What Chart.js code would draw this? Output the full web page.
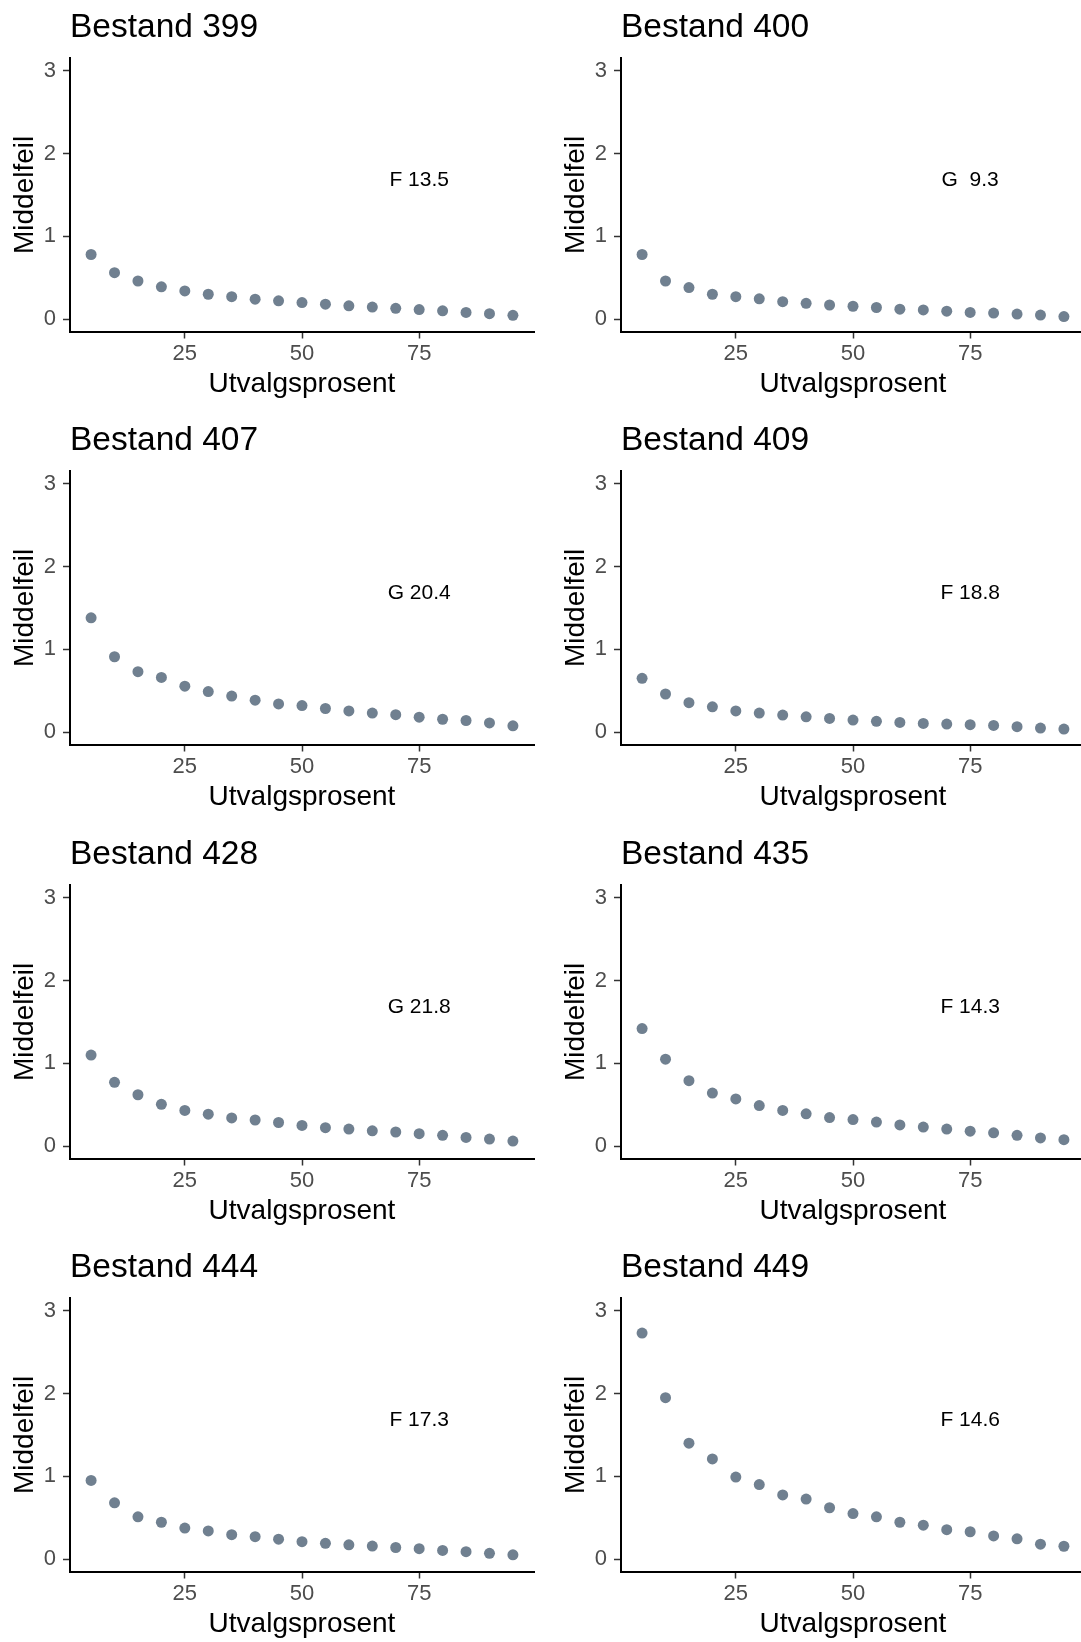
<!DOCTYPE html>
<html>
<head>
<meta charset="utf-8">
<script src="https://cdn.jsdelivr.net/npm/chart.js@4/dist/chart.umd.min.js"></script>
<style>
  html, body { margin: 0; padding: 0; background: #ffffff; }
  body { width: 1081px; height: 1642px; overflow: hidden; position: relative; }
  .panel { position: absolute; width: 551px; height: 413px; }
  canvas { display: block; }
</style>
</head>
<body>
<script>
// ---- data ----
const utvalgsprosent = [5, 10, 15, 20, 25, 30, 35, 40, 45, 50, 55, 60, 65, 70, 75, 80, 85, 90, 95];

const bestand399 = [0.78, 0.56, 0.46, 0.39, 0.34, 0.30, 0.27, 0.24, 0.22, 0.20, 0.18, 0.16, 0.145, 0.13, 0.115, 0.10, 0.08, 0.065, 0.045];
const bestand400 = [0.78, 0.46, 0.38, 0.30, 0.27, 0.245, 0.21, 0.19, 0.17, 0.155, 0.14, 0.12, 0.11, 0.095, 0.08, 0.072, 0.06, 0.048, 0.03];
const bestand407 = [1.38, 0.91, 0.73, 0.66, 0.555, 0.49, 0.435, 0.385, 0.34, 0.32, 0.285, 0.255, 0.23, 0.21, 0.18, 0.155, 0.14, 0.11, 0.075];
const bestand409 = [0.65, 0.46, 0.355, 0.305, 0.255, 0.23, 0.205, 0.185, 0.165, 0.145, 0.13, 0.117, 0.105, 0.097, 0.089, 0.08, 0.065, 0.048, 0.036];
const bestand428 = [1.10, 0.77, 0.62, 0.505, 0.43, 0.385, 0.34, 0.315, 0.285, 0.25, 0.222, 0.205, 0.185, 0.17, 0.15, 0.13, 0.105, 0.085, 0.06];
const bestand435 = [1.42, 1.05, 0.79, 0.64, 0.57, 0.49, 0.43, 0.39, 0.345, 0.32, 0.29, 0.255, 0.23, 0.205, 0.18, 0.16, 0.13, 0.098, 0.077];
const bestand444 = [0.95, 0.68, 0.51, 0.445, 0.375, 0.34, 0.295, 0.27, 0.24, 0.21, 0.19, 0.172, 0.157, 0.14, 0.125, 0.105, 0.09, 0.07, 0.052];
const bestand449 = [2.73, 1.95, 1.40, 1.21, 0.99, 0.90, 0.775, 0.725, 0.62, 0.55, 0.51, 0.445, 0.41, 0.355, 0.33, 0.28, 0.245, 0.18, 0.155];

const panelTitles = ['Bestand 399', 'Bestand 400', 'Bestand 407', 'Bestand 409', 'Bestand 428', 'Bestand 435', 'Bestand 444', 'Bestand 449'];
const panelSeries = [bestand399, bestand400, bestand407, bestand409, bestand428, bestand435, bestand444, bestand449];
const panelNotes = ['F 13.5', 'G  9.3', 'G 20.4', 'F 18.8', 'G 21.8', 'F 14.3', 'F 17.3', 'F 14.6'];

const xTickValues = [25, 50, 75];
const yTickValues = [0, 1, 2, 3];
const xAxisTitle = 'Utvalgsprosent';
const yAxisTitle = 'Middelfeil';

// ---- style / layout ----
const FONT = "'Liberation Sans', Arial, Helvetica, sans-serif";
Chart.defaults.font.family = FONT;
const PANEL_W = 551, PANEL_H = 413;
const rowTops = [0, 413, 827, 1240];
const colLefts = [0, 551];
const NOTE_X = 75, NOTE_Y = 1.7;

const notePlugin = {
  id: 'noteText',
  afterDatasetsDraw(chart, args, opts) {
    const { ctx } = chart;
    const xs = chart.scales.x, ys = chart.scales.y;
    ctx.save();
    ctx.font = '21px ' + FONT;
    ctx.fillStyle = '#000000';
    ctx.textAlign = 'center';
    ctx.textBaseline = 'middle';
    ctx.fillText(opts.text, xs.getPixelForValue(opts.x), ys.getPixelForValue(opts.y) + 2);
    ctx.restore();
  }
};

panelSeries.forEach((series, i) => {
  const row = Math.floor(i / 2), col = i % 2;
  const div = document.createElement('div');
  div.className = 'panel';
  div.style.left = colLefts[col] + 'px';
  div.style.top = rowTops[row] + 'px';
  const canvas = document.createElement('canvas');
  canvas.width = PANEL_W;
  canvas.height = PANEL_H;
  div.appendChild(canvas);
  document.body.appendChild(div);

  new Chart(canvas, {
    type: 'scatter',
    data: {
      datasets: [{
        data: utvalgsprosent.map((x, k) => ({ x: x, y: series[k] })),
        backgroundColor: '#708090',
        borderWidth: 0,
        pointRadius: 5.5,
        pointHoverRadius: 5.5
      }]
    },
    options: {
      responsive: false,
      animation: false,
      devicePixelRatio: 1,
      events: [],
      layout: { padding: { left: 0, top: 0, right: 17, bottom: 0 } },
      plugins: {
        legend: { display: false },
        tooltip: { enabled: false },
        title: {
          display: true,
          text: panelTitles[i],
          align: 'start',
          fullSize: false,
          color: '#000000',
          font: { family: FONT, size: 33.5, weight: 'normal', lineHeight: 1.2 },
          padding: { top: 8, bottom: 10.1 }
        },
        noteText: { text: panelNotes[i], x: NOTE_X, y: NOTE_Y }
      },
      scales: {
        x: {
          type: 'linear',
          min: 0.5,
          max: 99.5,
          afterBuildTicks: s => { s.ticks = xTickValues.map(v => ({ value: v })); },
          afterFit: s => { s.height = PANEL_H - 331.5; },
          grid: { drawOnChartArea: false, drawTicks: true, tickLength: 7, tickColor: '#333333', tickWidth: 1.5 },
          border: { display: true, color: '#000000', width: 2 },
          ticks: { color: '#4D4D4D', font: { family: FONT, size: 22 }, padding: 2, maxRotation: 0, autoSkip: false },
          title: { display: true, text: xAxisTitle, color: '#000000', font: { family: FONT, size: 28, lineHeight: 1.2 }, padding: { top: 0, bottom: 11.5 } }
        },
        y: {
          type: 'linear',
          min: -0.15,
          max: 3.15,
          afterBuildTicks: s => { s.ticks = yTickValues.map(v => ({ value: v })); },
          afterFit: s => { s.width = 70; },
          grid: { drawOnChartArea: false, drawTicks: true, tickLength: 7, tickColor: '#333333', tickWidth: 1.5 },
          border: { display: true, color: '#000000', width: 2 },
          ticks: { color: '#4D4D4D', font: { family: FONT, size: 22 }, padding: 7, autoSkip: false },
          title: { display: true, text: yAxisTitle, color: '#000000', font: { family: FONT, size: 28, lineHeight: 1.2 }, padding: { top: 8.5, bottom: 0 } }
        }
      }
    },
    plugins: [notePlugin]
  });
});
</script>
</body>
</html>
